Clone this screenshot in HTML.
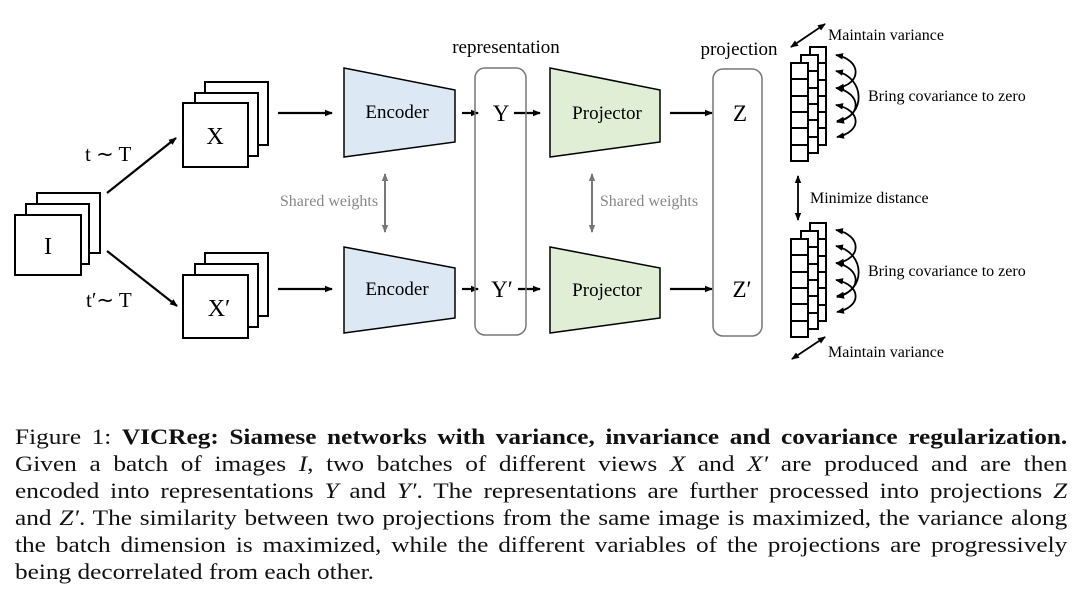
<!DOCTYPE html>
<html><head><meta charset="utf-8"><style>
body{margin:0;width:1080px;height:598px;background:#fff;overflow:hidden;position:relative;font-family:"Liberation Serif",serif}
.l{position:absolute;left:15px;width:915px;font-size:22px;line-height:27px;text-align:justify;text-align-last:justify;white-space:nowrap;color:#111;transform:scaleX(1.15);transform-origin:0 0}
.l.last{text-align-last:left}
i{font-style:italic}
</style></head><body>
<svg width="1080" height="400" style="position:absolute;left:0;top:0" font-family="Liberation Serif, serif">
<defs>
<marker id="a" markerWidth="8" markerHeight="8" refX="7" refY="4" orient="auto-start-reverse" markerUnits="userSpaceOnUse"><path d="M0,0.8 L8,4 L0,7.2z" fill="#000"/></marker>
<marker id="g" markerWidth="8" markerHeight="8" refX="7" refY="4" orient="auto-start-reverse" markerUnits="userSpaceOnUse"><path d="M0,0.8 L8,4 L0,7.2z" fill="#777"/></marker>
</defs>
<g stroke="#000" stroke-width="2" fill="#fff">
<rect x="37" y="193" width="63" height="60"/><rect x="26" y="204" width="63" height="60"/><rect x="15" y="215" width="66" height="60"/>
<rect x="205" y="82" width="63" height="63"/><rect x="195" y="93" width="63" height="63"/><rect x="183" y="103" width="65" height="64"/>
<rect x="205" y="253" width="63" height="63"/><rect x="195" y="264" width="63" height="63"/><rect x="183" y="275" width="65" height="63"/>
</g>
<g font-size="24" text-anchor="middle"><text x="48" y="254">I</text><text x="215" y="144">X</text><text x="219" y="316">X′</text></g>
<g font-size="21"><text x="85" y="161">t ∼ T</text><text x="86" y="307">t′∼ T</text></g>
<g stroke="#000" stroke-width="2.2" marker-end="url(#a)">
<line x1="107" y1="193" x2="176" y2="138"/><line x1="107" y1="251" x2="177" y2="306"/>
<line x1="278" y1="113" x2="332" y2="113"/><line x1="278" y1="289" x2="332" y2="289"/>
<line x1="462" y1="113" x2="478" y2="113"/><line x1="514" y1="113" x2="540" y2="113"/>
<line x1="462" y1="289" x2="478" y2="289"/><line x1="518" y1="289" x2="540" y2="289"/>
<line x1="670" y1="113" x2="712" y2="113"/><line x1="670" y1="289" x2="712" y2="289"/>
</g>
<g stroke="#000" stroke-width="1.5">
<path d="M344,68 L455,90 L455,142 L344,157z" fill="#dce8f4"/>
<path d="M344,247 L455,268 L455,318 L344,333z" fill="#dce8f4"/>
<path d="M550,68 L660,90 L660,142 L550,157z" fill="#e0eed5"/>
<path d="M550,247 L660,268 L660,318 L550,333z" fill="#e0eed5"/>
</g>
<g font-size="19" text-anchor="middle"><text x="397" y="118">Encoder</text><text x="397" y="295">Encoder</text><text x="607" y="119">Projector</text><text x="607" y="296">Projector</text></g>
<rect x="475" y="68" width="51" height="267" rx="10" fill="none" stroke="#777" stroke-width="1.5"/>
<rect x="713" y="69" width="49" height="267" rx="10" fill="none" stroke="#777" stroke-width="1.5"/>
<g font-size="23" text-anchor="middle"><text x="501" y="121">Y</text><text x="502" y="297">Y′</text><text x="740" y="121">Z</text><text x="742" y="297">Z′</text></g>
<g font-size="19" text-anchor="middle"><text x="506" y="53">representation</text><text x="739" y="55">projection</text></g>
<g font-size="16" fill="#888" text-anchor="middle"><text x="329" y="206">Shared weights</text><text x="649" y="206">Shared weights</text></g>
<g stroke="#777" stroke-width="2" marker-start="url(#g)" marker-end="url(#g)">
<line x1="385" y1="174" x2="385" y2="232"/><line x1="592" y1="174" x2="592" y2="232"/>
</g>
<g stroke="#000" stroke-width="2" fill="#fff">
<rect x="810" y="47" width="16" height="98"/><path d="M810,63H826M810,80H826M810,96H826M810,112H826M810,128H826"/>
<rect x="801" y="55" width="17" height="98"/><path d="M801,71H818M801,88H818M801,104H818M801,120H818M801,137H818"/>
<rect x="791" y="63" width="17" height="98"/><path d="M791,79H808M791,96H808M791,112H808M791,128H808M791,145H808"/>
<rect x="810" y="223" width="16" height="98"/><path d="M810,239H826M810,256H826M810,272H826M810,288H826M810,305H826"/>
<rect x="801" y="231" width="17" height="98"/><path d="M801,247H818M801,264H818M801,280H818M801,296H818M801,313H818"/>
<rect x="791" y="239" width="17" height="98"/><path d="M791,255H808M791,272H808M791,288H808M791,304H808M791,321H808"/>
</g>
<g stroke="#000" stroke-width="1.8" fill="none" marker-start="url(#a)" marker-end="url(#a)">
<path d="M836,55 C862,60 862,84 837,88"/><path d="M836,71 C866,78 866,116 837,122"/><path d="M836,88 C862,93 862,117 837,121"/><path d="M836,105 C862,110 862,132 837,137"/>
<path d="M836,230 C862,235 862,259 837,263"/><path d="M836,246 C866,253 866,291 837,297"/><path d="M836,263 C862,268 862,292 837,296"/><path d="M836,280 C862,285 862,307 837,312"/>
<line x1="791" y1="47" x2="825" y2="24"/><line x1="792" y1="359" x2="825" y2="337"/>
<line x1="798" y1="176" x2="798" y2="220"/>
</g>
<g font-size="16"><text x="828" y="40">Maintain variance</text><text x="868" y="101">Bring covariance to zero</text><text x="810" y="203">Minimize distance</text><text x="868" y="276">Bring covariance to zero</text><text x="828" y="357">Maintain variance</text></g>
</svg>
<div class="l" style="top:423px">Figure 1: <b>VICReg: Siamese networks with variance, invariance and covariance regularization.</b></div>
<div class="l" style="top:450px">Given a batch of images <i>I</i>, two batches of different views <i>X</i> and <i>X′</i> are produced and are then</div>
<div class="l" style="top:477px">encoded into representations <i>Y</i> and <i>Y′</i>. The representations are further processed into projections <i>Z</i></div>
<div class="l" style="top:504px">and <i>Z′</i>. The similarity between two projections from the same image is maximized, the variance along</div>
<div class="l" style="top:531px">the batch dimension is maximized, while the different variables of the projections are progressively</div>
<div class="l last" style="top:558px">being decorrelated from each other.</div>
</body></html>
